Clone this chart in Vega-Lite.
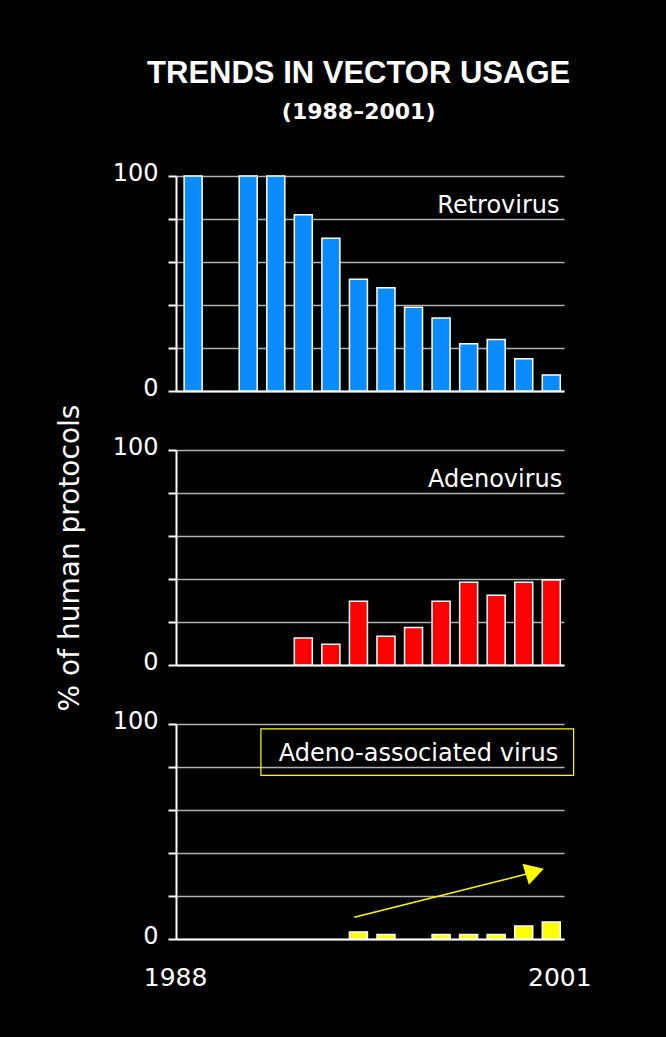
{
  "$schema": "https://vega.github.io/schema/vega-lite/v6.json",
  "background": "black",
  "padding": {"left": 56, "top": 58, "right": 78, "bottom": 47},
  "title": {
    "text": "TRENDS IN VECTOR USAGE",
    "subtitle": "(1988–2001)",
    "color": "white",
    "subtitleColor": "white",
    "font": "Liberation Sans",
    "fontSize": 31,
    "fontWeight": "bold",
    "subtitleFont": "DejaVu Sans",
    "subtitleFontSize": 22,
    "subtitleFontWeight": "bold",
    "subtitlePadding": 12,
    "anchor": "middle",
    "dx": 35,
    "offset": 37
  },
  "datasets": {
    "bars": [
      {"vector": "Retrovirus", "year": 1988, "pct": 100},
      {"vector": "Retrovirus", "year": 1990, "pct": 100},
      {"vector": "Retrovirus", "year": 1991, "pct": 100},
      {"vector": "Retrovirus", "year": 1992, "pct": 82},
      {"vector": "Retrovirus", "year": 1993, "pct": 71},
      {"vector": "Retrovirus", "year": 1994, "pct": 52},
      {"vector": "Retrovirus", "year": 1995, "pct": 48},
      {"vector": "Retrovirus", "year": 1996, "pct": 39},
      {"vector": "Retrovirus", "year": 1997, "pct": 34},
      {"vector": "Retrovirus", "year": 1998, "pct": 22},
      {"vector": "Retrovirus", "year": 1999, "pct": 24},
      {"vector": "Retrovirus", "year": 2000, "pct": 15},
      {"vector": "Retrovirus", "year": 2001, "pct": 7.5},
      {"vector": "Adenovirus", "year": 1992, "pct": 12.6},
      {"vector": "Adenovirus", "year": 1993, "pct": 9.6},
      {"vector": "Adenovirus", "year": 1994, "pct": 29.7},
      {"vector": "Adenovirus", "year": 1995, "pct": 13.4},
      {"vector": "Adenovirus", "year": 1996, "pct": 17.4},
      {"vector": "Adenovirus", "year": 1997, "pct": 29.7},
      {"vector": "Adenovirus", "year": 1998, "pct": 38.5},
      {"vector": "Adenovirus", "year": 1999, "pct": 32.5},
      {"vector": "Adenovirus", "year": 2000, "pct": 38.5},
      {"vector": "Adenovirus", "year": 2001, "pct": 39.5},
      {"vector": "AAV", "year": 1994, "pct": 3.3},
      {"vector": "AAV", "year": 1995, "pct": 2.1},
      {"vector": "AAV", "year": 1997, "pct": 2.1},
      {"vector": "AAV", "year": 1998, "pct": 2.1},
      {"vector": "AAV", "year": 1999, "pct": 2.1},
      {"vector": "AAV", "year": 2000, "pct": 6},
      {"vector": "AAV", "year": 2001, "pct": 7.9}
    ],
    "labels": [
      {"vector": "Retrovirus", "label": "Retrovirus", "year": 2001.3, "pct": 82.6},
      {"vector": "Adenovirus", "label": "Adenovirus", "year": 2001.4, "pct": 82.6},
      {"vector": "AAV", "label": "Adeno-associated virus", "year": 2001.25, "pct": 82.6}
    ],
    "box": [
      {"year_start": 1990.46, "year_end": 2001.81, "pct_low": 76.1, "pct_high": 97.7}
    ],
    "arrow": [
      {"year_start": 1993.85, "pct_start": 10.1, "year_end": 2000.1, "pct_end": 30.2, "head_year": 2000.4, "head_pct": 31.4}
    ]
  },
  "spacing": 59,
  "bounds": "flush",
  "vconcat": [
    {
      "width": 388,
      "height": 215,
      "layer": [
        {
          "data": {"name": "bars"},
          "transform": [{"filter": "datum.vector == 'Retrovirus'"}],
          "mark": {"type": "bar", "size": 18, "fill": "#0a8cff", "stroke": "white", "strokeWidth": 1.5},
          "encoding": {
            "x": {"field": "year", "type": "quantitative", "scale": {"domain": [1987.56, 2001.28], "nice": false, "zero": false},
              "axis": {"title": null, "labels": false, "ticks": false, "grid": false, "domainColor": "white", "domainWidth": 2}},
            "y": {"field": "pct", "type": "quantitative", "scale": {"domain": [0, 100], "nice": false},
              "axis": {"title": null, "values": [0, 20, 40, 60, 80, 100], "labelExpr": "datum.value == 0 || datum.value == 100 ? datum.label : ''"}}
          }
        },
        {
          "data": {"name": "labels"},
          "transform": [{"filter": "datum.vector == 'Retrovirus'"}],
          "mark": {"type": "text", "align": "right", "baseline": "alphabetic", "font": "DejaVu Sans", "fontSize": 24, "color": "white"},
          "encoding": {
            "x": {"field": "year", "type": "quantitative"},
            "y": {"field": "pct", "type": "quantitative"},
            "text": {"field": "label"}
          }
        }
      ]
    },
    {
      "width": 388,
      "height": 215,
      "layer": [
        {
          "data": {"name": "bars"},
          "transform": [{"filter": "datum.vector == 'Adenovirus'"}],
          "mark": {"type": "bar", "size": 18, "fill": "#ff0000", "stroke": "white", "strokeWidth": 1.5},
          "encoding": {
            "x": {"field": "year", "type": "quantitative", "scale": {"domain": [1987.56, 2001.28], "nice": false, "zero": false},
              "axis": {"title": null, "labels": false, "ticks": false, "grid": false, "domainColor": "white", "domainWidth": 2}},
            "y": {"field": "pct", "type": "quantitative", "scale": {"domain": [0, 100], "nice": false},
              "axis": {"title": "% of human protocols", "titleColor": "white", "titleFont": "DejaVu Sans", "titleFontSize": 28, "titleFontWeight": "normal", "titlePadding": 28,
                "values": [0, 20, 40, 60, 80, 100], "labelExpr": "datum.value == 0 || datum.value == 100 ? datum.label : ''"}}
          }
        },
        {
          "data": {"name": "labels"},
          "transform": [{"filter": "datum.vector == 'Adenovirus'"}],
          "mark": {"type": "text", "align": "right", "baseline": "alphabetic", "font": "DejaVu Sans", "fontSize": 24, "color": "white"},
          "encoding": {
            "x": {"field": "year", "type": "quantitative"},
            "y": {"field": "pct", "type": "quantitative"},
            "text": {"field": "label"}
          }
        }
      ]
    },
    {
      "width": 388,
      "height": 215,
      "layer": [
        {
          "data": {"name": "bars"},
          "transform": [{"filter": "datum.vector == 'AAV'"}],
          "mark": {"type": "bar", "size": 18, "fill": "#ffff00", "stroke": "white", "strokeWidth": 1.5},
          "encoding": {
            "x": {"field": "year", "type": "quantitative", "scale": {"domain": [1987.56, 2001.28], "nice": false, "zero": false},
              "axis": {"title": null, "values": [1988, 2001], "format": "d", "labelColor": "white", "labelFont": "DejaVu Sans", "labelFontSize": 25,
                "ticks": false, "tickSize": 0, "labelPadding": 26, "labelFlush": false, "labelOverlap": false,
                "labelOffset": {"condition": {"test": "datum.value == 1988", "value": -18}, "value": 8},
                "grid": false, "domainColor": "white", "domainWidth": 2}},
            "y": {"field": "pct", "type": "quantitative", "scale": {"domain": [0, 100], "nice": false},
              "axis": {"title": null, "values": [0, 20, 40, 60, 80, 100], "labelExpr": "datum.value == 0 || datum.value == 100 ? datum.label : ''"}}
          }
        },
        {
          "data": {"name": "labels"},
          "transform": [{"filter": "datum.vector == 'AAV'"}],
          "mark": {"type": "text", "align": "right", "baseline": "alphabetic", "font": "DejaVu Sans", "fontSize": 24, "color": "white"},
          "encoding": {
            "x": {"field": "year", "type": "quantitative"},
            "y": {"field": "pct", "type": "quantitative"},
            "text": {"field": "label"}
          }
        },
        {
          "data": {"name": "box"},
          "mark": {"type": "rect", "filled": false, "stroke": "#ffff00", "strokeWidth": 1.2, "clip": false},
          "encoding": {
            "x": {"field": "year_start", "type": "quantitative"},
            "x2": {"field": "year_end"},
            "y": {"field": "pct_low", "type": "quantitative"},
            "y2": {"field": "pct_high"}
          }
        },
        {
          "data": {"name": "arrow"},
          "mark": {"type": "rule", "color": "#ffff00", "strokeWidth": 1.5},
          "encoding": {
            "x": {"field": "year_start", "type": "quantitative"},
            "x2": {"field": "year_end"},
            "y": {"field": "pct_start", "type": "quantitative"},
            "y2": {"field": "pct_end"}
          }
        },
        {
          "data": {"name": "arrow"},
          "mark": {"type": "point", "shape": "triangle-up", "filled": true, "size": 480, "angle": 73, "color": "#ffff00", "opacity": 1},
          "encoding": {
            "x": {"field": "head_year", "type": "quantitative"},
            "y": {"field": "head_pct", "type": "quantitative"}
          }
        }
      ]
    }
  ],
  "config": {
    "view": {"stroke": null},
    "axisY": {
      "domainColor": "white", "domainWidth": 2,
      "tickColor": "white", "tickWidth": 2, "tickSize": 8,
      "labelColor": "white", "labelFont": "DejaVu Sans", "labelFontSize": 24, "labelPadding": 10, "labelOffset": -3,
      "grid": true, "gridColor": "#b0b0b0", "gridWidth": 1.3
    }
  }
}
